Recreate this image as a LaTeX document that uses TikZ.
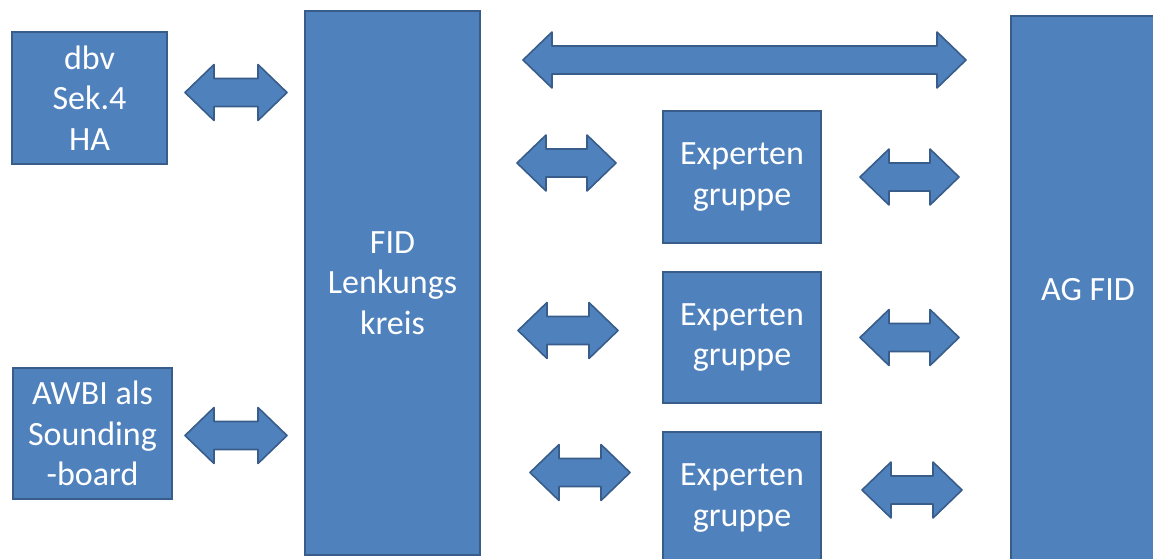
\documentclass[tikz,border=0pt]{standalone}
\usepackage{fontspec}
\setmainfont{Carlito}
\definecolor{boxfill}{HTML}{4F81BD}
\definecolor{boxline}{HTML}{385D8A}
\tikzset{
  blk/.style={draw=boxline, fill=boxfill, line width=2pt, text=white, align=center,
    font=\fontsize{34}{40.5}\selectfont, inner sep=0pt},
  barr/.style={draw=boxline, fill=boxfill, line width=1.6pt, line join=round}
}
% block double arrow: x1, x2, yc
\newcommand{\blockarrow}[3]{%
  \draw[barr] (#1,#3) -- ++(29,-28) -- ++(0,14) -- (#2-29,#3-14) -- ++(0,-14) -- (#2,#3)
    -- ++(-29,28) -- ++(0,-14) -- (#1+29,#3+14) -- ++(0,14) -- cycle;}
\begin{document}
\begin{tikzpicture}[x=1pt,y=-1pt]
\clip (0,0) rectangle (1153,558);
\fill[white] (0,0) rectangle (1153,558);
\node[blk, minimum width=155pt, minimum height=132pt] (dbv) at (89.5,98) {dbv\\Sek.4\\HA};
\node[blk, minimum width=159pt, minimum height=131pt] (awbi) at (92.5,433.5) {AWBI als\\Sounding\\-board};
\node[blk, minimum width=175pt, minimum height=544pt] (fid) at (392.5,283) {FID\\Lenkungs\\kreis};
\node[blk, minimum width=154pt, minimum height=548pt] (ag) at (1088,290) {AG FID};
\node[blk, minimum width=158pt, minimum height=132pt] (e1) at (742,177) {Experten\\gruppe};
\node[blk, minimum width=158pt, minimum height=131pt] (e2) at (742,337.5) {Experten\\gruppe};
\node[blk, minimum width=158pt, minimum height=132pt] (e3) at (742,498) {Experten\\gruppe};
\blockarrow{185}{287}{92.5}
\blockarrow{185}{287}{435.5}
\blockarrow{523}{966}{60}
\blockarrow{517}{616}{163}
\blockarrow{518}{618}{330.5}
\blockarrow{530}{630}{472.5}
\blockarrow{860}{959}{177}
\blockarrow{860}{959}{337.5}
\blockarrow{862}{962}{490}
\end{tikzpicture}
\end{document}
